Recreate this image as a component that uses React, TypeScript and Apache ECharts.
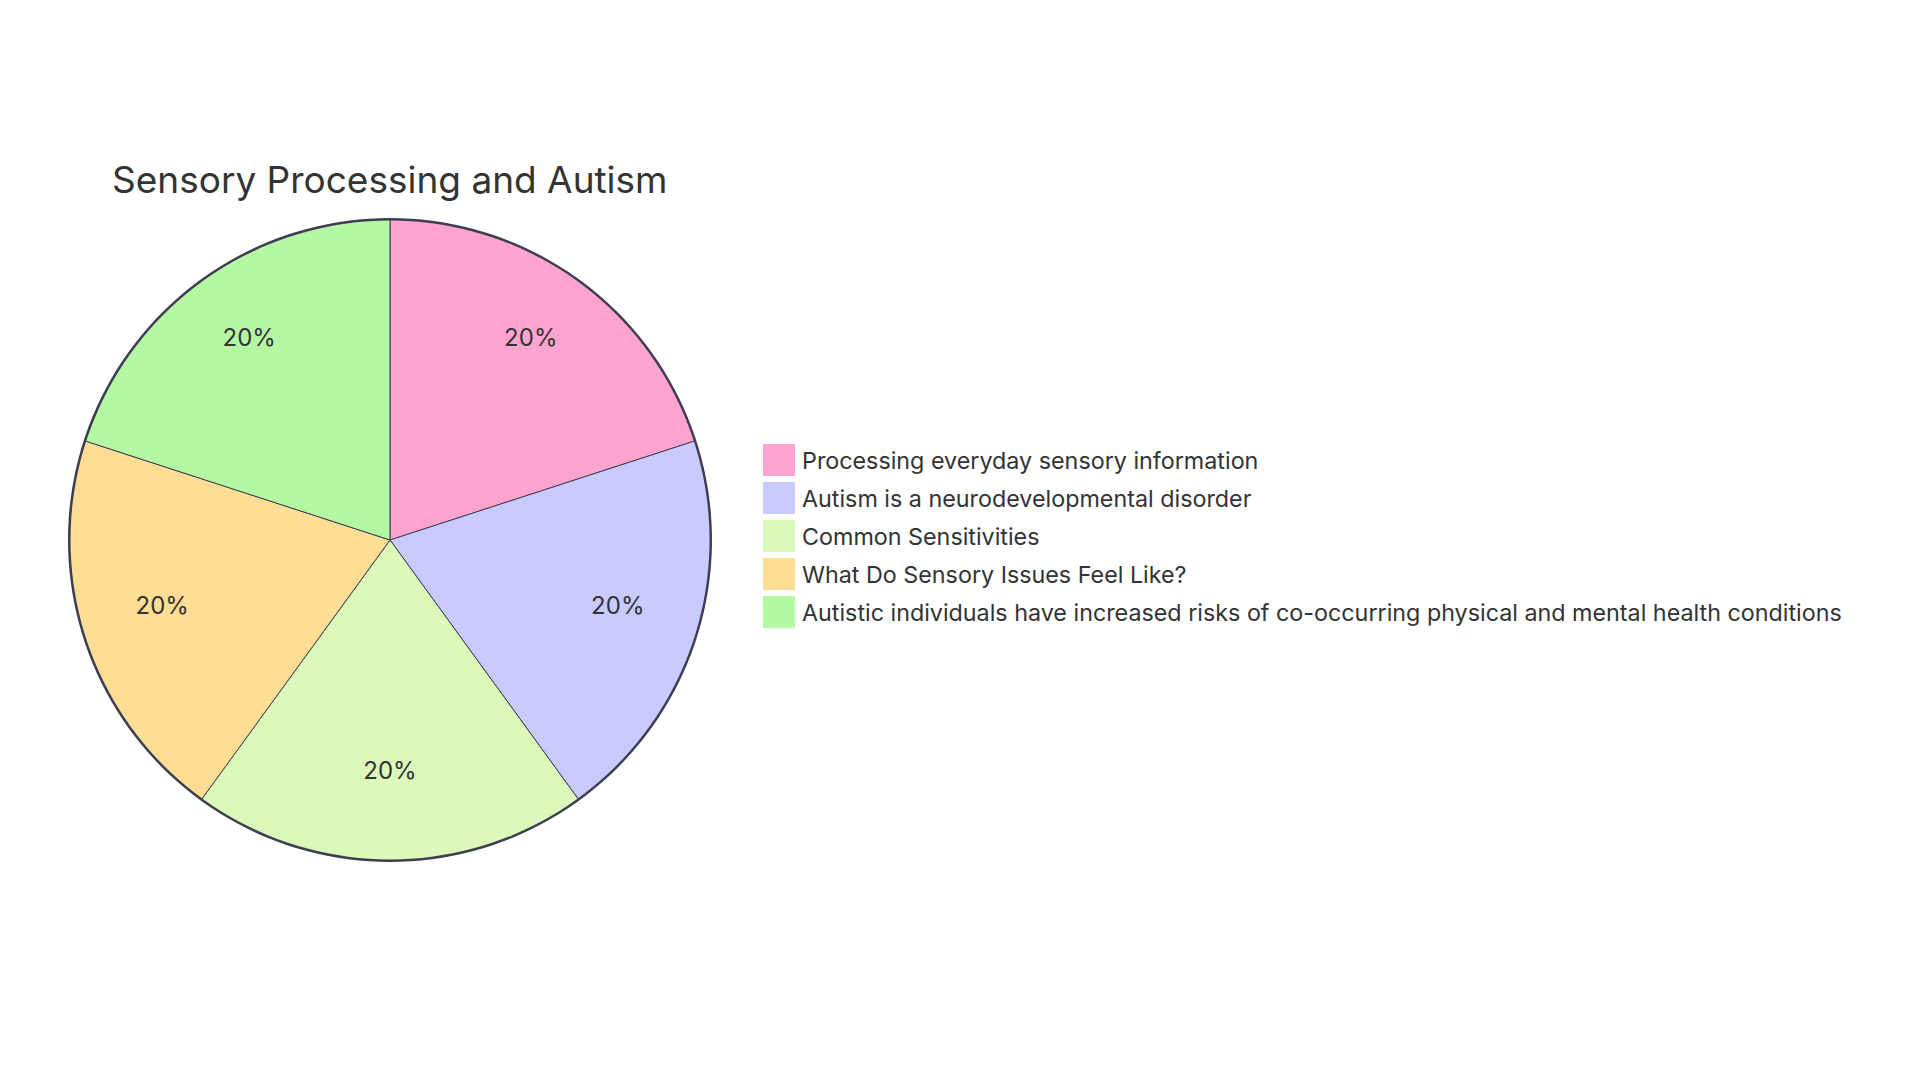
import React, { useEffect, useRef } from "react";
import * as echarts from "echarts";

const titleText = "Sensory Processing and Autism";
const categories = [
  "Processing everyday sensory information",
  "Autism is a neurodevelopmental disorder",
  "Common Sensitivities",
  "What Do Sensory Issues Feel Like?",
  "Autistic individuals have increased risks of co-occurring physical and mental health conditions",
];
const values = [20, 20, 20, 20, 20];
const colors = ["#FFA3CF", "#C9CAFF", "#DBF9BB", "#FEDD94", "#B4F8A4"];

const FONT = "Inter, 'Open Sans', sans-serif";
const STROKE = "#3d3e52";

export default function App() {
  const ref = useRef<HTMLDivElement>(null);
  useEffect(() => {
    if (!ref.current) return;
    const chart = echarts.init(ref.current, undefined, { renderer: "svg" });
    const data = categories.map((name, i) => ({
      name,
      value: values[i],
      itemStyle: { color: colors[i] },
    }));
    const total = values.reduce((a, b) => a + b, 0);
    chart.setOption({
      animation: false,
      backgroundColor: "#ffffff",
      title: {
        text: titleText,
        left: 112,
        top: 161,
        padding: 0,
        textStyle: { fontFamily: FONT, fontSize: 37, fontWeight: 400, color: "#333333" },
      },
      legend: {
        orient: "vertical",
        left: 763,
        top: 444,
        padding: 0,
        itemWidth: 32,
        itemHeight: 32,
        itemGap: 6,
        icon: "rect",
        data: categories,
        selectedMode: false,
        itemStyle: { borderWidth: 0 },
        textStyle: { fontFamily: FONT, fontSize: 23.3, color: "#333333", padding: [0, 0, 0, 2] },
      },
      series: [
        {
          type: "pie",
          center: [390, 540],
          radius: [0, 321],
          startAngle: 90,
          clockwise: true,
          silent: true,
          label: { show: false },
          labelLine: { show: false },
          itemStyle: { borderColor: STROKE, borderWidth: 1 },
          data,
        },
        {
          type: "pie",
          center: [390, 540],
          radius: [152, 321],
          startAngle: 90,
          clockwise: true,
          silent: true,
          itemStyle: { color: "rgba(0,0,0,0)", borderWidth: 0 },
          labelLine: { show: false },
          labelLayout: { dy: -9 },
          label: {
            show: true,
            position: "inside",
            fontFamily: FONT,
            fontSize: 24,
            color: "#333333",
            formatter: (p: any) => `${Math.round((p.value / total) * 100)}%`,
          },
          data: categories.map((name, i) => ({ name, value: values[i] })),
        },
        {
          type: "pie",
          center: [390, 540],
          radius: [319.5, 322],
          silent: true,
          label: { show: false },
          labelLine: { show: false },
          itemStyle: { color: STROKE, borderWidth: 0 },
          data: [{ name: "__outline", value: 1 }],
        },
      ],
    });
    return () => chart.dispose();
  }, []);
  return (
    <div
      ref={ref}
      style={{ position: "fixed", left: 0, top: 0, width: 1920, height: 1080 }}
    />
  );
}
